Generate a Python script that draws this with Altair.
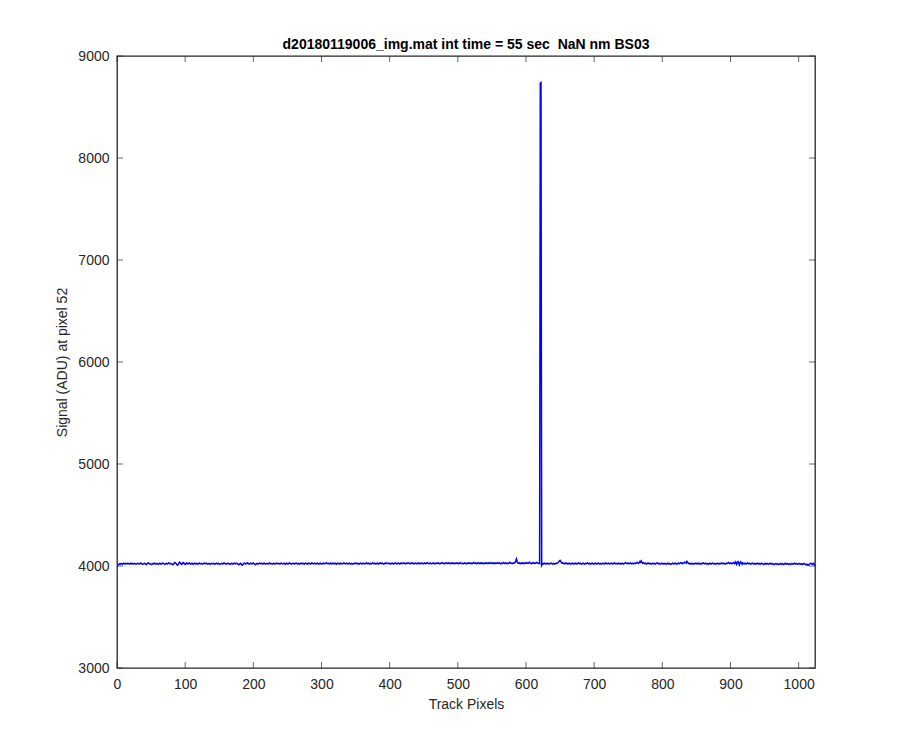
import altair as alt
import pandas as pd

# Signal at pixel 52 along track pixels
signal_a = [
    4012, 4010, 4018, 4022, 4019, 4025, 4021, 4017, 4024, 4028, 4022, 4019, 4026, 4023, 4020, 4027, 4024, 4018, 4022, 4025,
    4021, 4028, 4024, 4019, 4023, 4026, 4020, 4017, 4022, 4027, 4025, 4021, 4018, 4024, 4029, 4023, 4020, 4016, 4022, 4026,
    4024, 4019, 4015, 4021, 4027, 4030, 4024, 4020, 4023, 4018, 4014, 4020, 4025, 4022, 4028, 4024, 4019, 4022, 4026, 4021,
    4017, 4023, 4027, 4022, 4018, 4024, 4029, 4025, 4020, 4016, 4021, 4026, 4023, 4019, 4025, 4030, 4026, 4021, 4024, 4020,
    4015, 4012, 4020, 4028, 4034, 4029, 4022, 4010, 4008, 4018, 4031, 4038, 4030, 4021, 4016, 4024, 4033, 4028, 4019, 4014,
    4022, 4030, 4026, 4020, 4025, 4029, 4023, 4018, 4024, 4027, 4021, 4017, 4023, 4028, 4024, 4020, 4026, 4022, 4019, 4025,
    4028, 4023, 4020, 4026, 4021, 4018, 4024, 4029, 4025, 4021, 4027, 4023, 4019, 4022, 4026, 4020, 4017, 4023, 4027, 4024,
    4020, 4025, 4022, 4018, 4024, 4028, 4023, 4019, 4025, 4021, 4016, 4022, 4027, 4024, 4020, 4026, 4031, 4025, 4021, 4024,
    4019, 4023, 4028, 4024, 4020, 4017, 4023, 4026, 4022, 4018, 4024, 4029, 4025, 4020, 4023, 4027, 4021, 4016, 4012, 4019,
    4026, 4021, 4010, 4008, 4017, 4025, 4029, 4024, 4020, 4026, 4031, 4027, 4022, 4018, 4024, 4028, 4023, 4019, 4025, 4030,
    4024, 4019, 4013, 4020, 4026, 4022, 4018, 4024, 4029, 4025, 4021, 4027, 4023, 4019, 4025, 4028, 4022, 4018, 4023, 4027,
    4024, 4020, 4026, 4030, 4025, 4021, 4024, 4019, 4023, 4027, 4022, 4018, 4024, 4029, 4025, 4021, 4026, 4023, 4019, 4025,
    4029, 4024, 4020, 4023, 4027, 4021, 4017, 4023, 4028, 4024, 4019, 4025, 4030, 4026, 4022, 4018, 4024, 4027, 4022, 4026,
    4021, 4025, 4029, 4024, 4020, 4026, 4023, 4018, 4024, 4028, 4025, 4021, 4027, 4022, 4019, 4025, 4029, 4024, 4020, 4026,
    4022, 4027, 4023, 4019, 4025, 4030, 4026, 4021, 4024, 4028, 4023, 4019, 4025, 4029, 4024, 4020, 4026, 4022, 4027, 4023,
    4019, 4024, 4028, 4025, 4021, 4027, 4032, 4026, 4022, 4025, 4020, 4024, 4029, 4023, 4019, 4025, 4028, 4024, 4021, 4027,
    4023, 4018, 4024, 4029, 4025, 4020, 4026, 4022, 4027, 4024, 4020, 4025, 4030, 4026, 4021, 4024, 4028, 4023, 4019, 4025,
    4029, 4024, 4020, 4026, 4022, 4018, 4024, 4027, 4023, 4028, 4025, 4021, 4027, 4022, 4019, 4024, 4029, 4025, 4021, 4026,
    4022, 4027, 4024, 4020, 4025, 4030, 4026, 4022, 4028, 4024, 4019, 4025, 4021, 4026, 4030, 4025, 4021, 4027, 4023, 4019,
    4025, 4029, 4024, 4020, 4026, 4031, 4027, 4023, 4028, 4024, 4020, 4026, 4022, 4027, 4032, 4026, 4022, 4025, 4029, 4024,
    4020, 4026, 4023, 4028, 4024, 4019, 4025, 4030, 4026, 4022, 4027, 4023, 4028, 4024, 4020, 4026, 4031, 4027, 4023, 4026,
    4030, 4025, 4021, 4027, 4023, 4028, 4032, 4027, 4023, 4026, 4022, 4027, 4031, 4026, 4022, 4028, 4024, 4029, 4025, 4021,
    4027, 4031, 4026, 4022, 4028, 4024, 4029, 4025, 4021, 4026, 4030, 4026, 4022, 4028, 4033, 4028, 4024, 4027, 4023, 4028,
    4025, 4021, 4027, 4031, 4026, 4022, 4028, 4024, 4029, 4025, 4030, 4026, 4022, 4027, 4023, 4029, 4033, 4028, 4024, 4027,
    4022, 4028, 4032, 4027, 4023, 4029, 4025, 4030, 4026, 4022, 4027, 4031, 4027, 4023, 4028, 4024, 4029, 4025, 4030, 4026,
    4022, 4028, 4033, 4028, 4024, 4029, 4025, 4021, 4027, 4031, 4026, 4022, 4028, 4024, 4030, 4026, 4031, 4027, 4023, 4028,
    4024, 4029, 4034, 4029, 4025, 4030, 4026, 4022, 4028, 4032, 4027, 4023, 4029, 4025, 4031, 4027, 4022, 4028, 4024, 4030,
    4026, 4031, 4027, 4023, 4029, 4025, 4030, 4026, 4032, 4028, 4024, 4029, 4025, 4031, 4027, 4023, 4028, 4033, 4029, 4025,
    4030, 4026, 4022, 4028, 4024, 4029, 4034, 4029, 4025, 4031, 4027, 4023, 4028, 4024, 4030, 4036, 4031, 4026, 4028, 4024,
    4029, 4025, 4030, 4035, 4048, 4068, 4044, 4030, 4026, 4031, 4027, 4023, 4029, 4025, 4031, 4027, 4023, 4028, 4033, 4029,
    4025, 4030, 4026, 4031, 4036, 4030, 4026, 4022, 4028, 4033, 4029, 4025, 4030, 4026, 4032, 4036, 4030, 4026, 4028, 4024,
]
spike = [8735, 8740]
signal_b = [
    4006, 4018, 4025, 4021, 4027, 4023, 4019, 4024, 4028, 4022, 4018, 4024, 4020, 4025, 4029, 4024, 4020, 4026, 4022, 4018,
    4024, 4028, 4023, 4029, 4034, 4042, 4050, 4056, 4046, 4034, 4027, 4031, 4026, 4022, 4027, 4023, 4029, 4025, 4020, 4026,
    4022, 4027, 4023, 4018, 4024, 4029, 4025, 4020, 4026, 4022, 4027, 4023, 4019, 4025, 4030, 4025, 4021, 4027, 4023, 4019,
    4024, 4028, 4023, 4019, 4025, 4021, 4026, 4030, 4025, 4021, 4027, 4022, 4018, 4024, 4029, 4024, 4020, 4026, 4022, 4027,
    4023, 4019, 4025, 4029, 4024, 4020, 4026, 4022, 4018, 4024, 4028, 4023, 4019, 4025, 4030, 4026, 4021, 4024, 4028, 4023,
    4019, 4025, 4029, 4024, 4020, 4026, 4031, 4026, 4022, 4027, 4023, 4019, 4025, 4029, 4024, 4020, 4026, 4022, 4027, 4023,
    4019, 4024, 4028, 4033, 4027, 4023, 4029, 4025, 4021, 4026, 4031, 4026, 4022, 4028, 4024, 4020, 4025, 4029, 4024, 4030,
    4035, 4030, 4026, 4032, 4045, 4038, 4050, 4036, 4028, 4033, 4027, 4023, 4029, 4024, 4020, 4026, 4030, 4025, 4021, 4027,
    4022, 4018, 4024, 4028, 4023, 4019, 4025, 4021, 4026, 4030, 4025, 4021, 4027, 4022, 4018, 4024, 4028, 4023, 4019, 4025,
    4021, 4026, 4022, 4017, 4023, 4028, 4024, 4019, 4025, 4021, 4016, 4022, 4027, 4023, 4019, 4025, 4029, 4024, 4020, 4026,
    4022, 4027, 4023, 4028, 4033, 4028, 4024, 4030, 4026, 4032, 4038, 4034, 4028, 4044, 4036, 4027, 4022, 4028, 4024, 4019,
    4025, 4021, 4026, 4022, 4018, 4024, 4029, 4025, 4020, 4026, 4022, 4027, 4023, 4019, 4025, 4021, 4026, 4031, 4026, 4022,
    4028, 4023, 4019, 4025, 4021, 4017, 4023, 4028, 4024, 4019, 4025, 4029, 4024, 4020, 4026, 4022, 4018, 4024, 4028, 4023,
    4019, 4025, 4021, 4026, 4030, 4025, 4021, 4027, 4023, 4019, 4024, 4028, 4023, 4029, 4034, 4028, 4024, 4030, 4026, 4021,
    4027, 4033, 4029, 4024, 4040, 4030, 4016, 4038, 4044, 4027, 4012, 4033, 4041, 4028, 4018, 4031, 4026, 4022, 4028, 4024,
    4019, 4025, 4030, 4025, 4021, 4027, 4022, 4018, 4024, 4029, 4025, 4020, 4026, 4022, 4017, 4023, 4028, 4024, 4020, 4026,
    4022, 4018, 4024, 4028, 4023, 4019, 4015, 4021, 4026, 4022, 4018, 4024, 4020, 4016, 4022, 4027, 4023, 4019, 4025, 4021,
    4017, 4013, 4019, 4024, 4020, 4016, 4022, 4018, 4014, 4020, 4025, 4021, 4017, 4023, 4019, 4015, 4021, 4026, 4022, 4018,
    4024, 4020, 4016, 4022, 4018, 4014, 4020, 4025, 4021, 4017, 4023, 4027, 4022, 4018, 4024, 4020, 4016, 4022, 4026, 4021,
    4017, 4023, 4019, 4015, 4021, 4025, 4020, 4016, 4012, 4018, 4008, 4006, 4014, 4020, 4025, 4027, 4022, 4019, 4024, 4026,
    4010, 4022,
]

x_ticks = [0, 100, 200, 300, 400, 500, 600, 700, 800, 900, 1000]
y_ticks = [3000, 4000, 5000, 6000, 7000, 8000, 9000]
x_domain = [0, 1024]
y_domain = [3000, 9000]

title_text = "d20180119006_img.mat int time = 55 sec \u00a0NaN nm BS03"
x_title = "Track Pixels"
y_title = "Signal (ADU) at pixel 52"

signal = signal_a + spike + signal_b
df = pd.DataFrame({"pixel": list(range(1, len(signal) + 1)), "signal": signal})
xt = pd.DataFrame({"t": x_ticks})
yt = pd.DataFrame({"t": y_ticks})

W, H = 698, 612
AX = "#262626"
FONT = "Liberation Sans"
FS = 14

xscale = alt.Scale(domain=x_domain, nice=False, zero=False)
yscale = alt.Scale(domain=y_domain, nice=False, zero=False)

line = alt.Chart(df).mark_line(color="#0000FF", strokeWidth=1.5, clip=True).encode(
    x=alt.X("pixel:Q", scale=xscale, title=x_title,
            axis=alt.Axis(values=x_ticks, ticks=False, tickSize=0, domain=False, grid=False,
                          labelFlush=False, labelPadding=9, titlePadding=6, format="d")),
    y=alt.Y("signal:Q", scale=yscale, title=y_title,
            axis=alt.Axis(values=y_ticks, ticks=False, tickSize=0, domain=False, grid=False,
                          labelFlush=False, labelPadding=8, titlePadding=8, format="d")),
)

tick_bottom = alt.Chart(xt).mark_tick(color=AX, thickness=1, size=6).encode(
    x=alt.X("t:Q", scale=xscale), y=alt.value(H - 3))
tick_top = alt.Chart(xt).mark_tick(color=AX, thickness=1, size=6).encode(
    x=alt.X("t:Q", scale=xscale), y=alt.value(3))
tick_left = alt.Chart(yt).mark_tick(color=AX, thickness=1, size=6).encode(
    y=alt.Y("t:Q", scale=yscale), x=alt.value(3))
tick_right = alt.Chart(yt).mark_tick(color=AX, thickness=1, size=6).encode(
    y=alt.Y("t:Q", scale=yscale), x=alt.value(W - 3))

chart = alt.layer(line, tick_bottom, tick_top, tick_left, tick_right).properties(
    width=W, height=H,
    background="white",
    title=alt.TitleParams(title_text, anchor="middle", font=FONT, fontSize=FS,
                          fontWeight="bold", color="#000000", offset=-3),
    autosize=alt.AutoSizeParams(type="none"),
    padding={"left": 109, "top": 48, "right": 70, "bottom": 70},
).configure_view(
    stroke=AX, strokeWidth=1.3
).configure_axis(
    labelFont=FONT, titleFont=FONT, labelFontSize=FS, titleFontSize=FS,
    labelColor=AX, titleColor=AX, titleFontWeight="normal",
)

chart.save("out.html", embed_options={"renderer": "svg", "actions": False})
